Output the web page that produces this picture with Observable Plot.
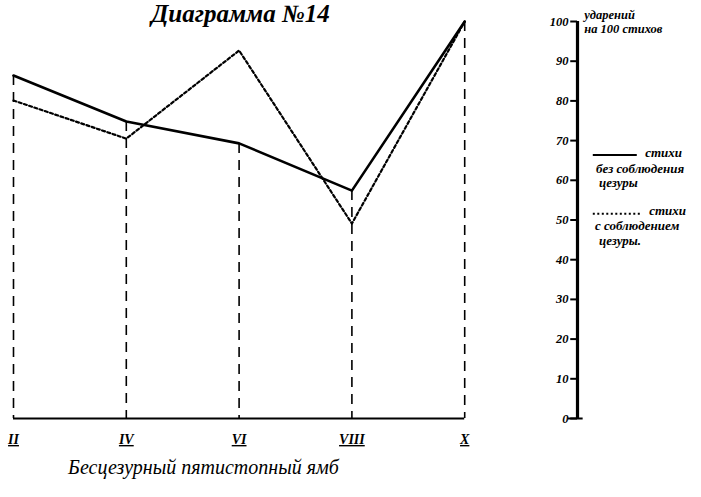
<!DOCTYPE html>
<html><head><meta charset="utf-8">
<script src="https://cdn.jsdelivr.net/npm/d3@7"></script>
<script src="https://cdn.jsdelivr.net/npm/@observablehq/plot@0.6"></script>
<style>
body{margin:0;background:#fff}
</style>
</head><body><div id="chart"></div>
<script>
const numerals = ["II", "IV", "VI", "VIII", "X"];
const feet = [2, 4, 6, 8, 10];
const withoutCaesura = [86.4, 74.8, 69.3, 57.4, 100];
const withCaesura = [80.1, 70.5, 92.7, 49.1, 100];
const yTicks = [0, 10, 20, 30, 40, 50, 60, 70, 80, 90, 100];
const title = "Диаграмма №14";
const caption = "Бесцезурный пятистопный ямб";
const unitLabel = ["ударений", "на 100 стихов"];
const legend1 = ["стихи", "без соблюдения", "цезуры"];
const legend2 = ["стихи", "с соблюдением", "цезуры."];

const rowsA = feet.map((f, i) => ({f, v: withoutCaesura[i], n: numerals[i]}));
const rowsB = feet.map((f, i) => ({f, v: withCaesura[i]}));
const axisX = 12;
const hand = "Liberation Serif";

const chart = Plot.plot({
  width: 701, height: 497,
  margin: 0,
  style: {fontFamily: hand, background: "#fff", color: "#000"},
  x: {domain: [2, 12], range: [13, 577], axis: null},
  y: {domain: [0, 100], range: [418, 21], axis: null},
  marks: [
    Plot.ruleY([0], {x1: 2, x2: 10, stroke: "#000", strokeWidth: 2}),
    Plot.ruleX(rowsA, {x: "f", y1: "v", y2: 0, stroke: "#000", strokeWidth: 1.6, strokeDasharray: "10,7"}),
    Plot.line(rowsB, {x: "f", y: "v", stroke: "#000", strokeWidth: 2.2, strokeDasharray: "3,2.5"}),
    Plot.line(rowsA, {x: "f", y: "v", stroke: "#000", strokeWidth: 2.6}),
    Plot.text(rowsA, {x: "f", y: 0, text: "n", dy: 21, fontSize: 14, fontWeight: "bold", fontStyle: "italic"}),
    Plot.ruleX([axisX], {y1: 0, y2: 100, stroke: "#000", strokeWidth: 3.2}),
    Plot.ruleY(yTicks, {y: d => d, x1: 11.88, x2: axisX, stroke: "#000", strokeWidth: 2}),
    Plot.ruleY([0], {x1: 11.84, x2: 12.1, stroke: "#000", strokeWidth: 2}),
    Plot.text(yTicks, {x: axisX, y: d => d, text: d => String(d), dx: -9, textAnchor: "end", fontSize: 12.5, fontWeight: "bold", fontStyle: "italic"}),
    Plot.text(unitLabel, {x: 12.12, y: (d, i) => [101.6, 98.0][i], text: d => d, textAnchor: "start", fontSize: 12.5, fontWeight: "bold", fontStyle: "italic"}),
    Plot.ruleY([66.4], {x1: 12.28, x2: 13.06, stroke: "#000", strokeWidth: 2}),
    Plot.ruleY([51.6], {x1: 12.28, x2: 13.12, stroke: "#000", strokeWidth: 2, strokeDasharray: "2,2.5"}),
    Plot.text(legend1, {x: (d, i) => [13.2, 12.33, 12.38][i], y: (d, i) => [67, 63, 59.4][i], text: d => d, textAnchor: "start", fontSize: 13, fontWeight: "bold", fontStyle: "italic"}),
    Plot.text(legend2, {x: (d, i) => [13.27, 12.31, 12.38][i], y: (d, i) => [52.2, 48.6, 44.8][i], text: d => d, textAnchor: "start", fontSize: 13, fontWeight: "bold", fontStyle: "italic"}),
    Plot.text([title], {frameAnchor: "top-left", dx: 240, dy: 4, textAnchor: "middle", fontSize: 25, fontStyle: "italic", fontWeight: "bold"}),
    Plot.text([caption], {frameAnchor: "top-left", dx: 203, dy: 459, textAnchor: "middle", fontSize: 20, fontStyle: "italic"})
  ]
});
d3.select(chart).selectAll("text").filter(function() { return numerals.includes(this.textContent); })
  .style("text-decoration", "underline");
document.getElementById("chart").appendChild(chart);
</script>
</body></html>
